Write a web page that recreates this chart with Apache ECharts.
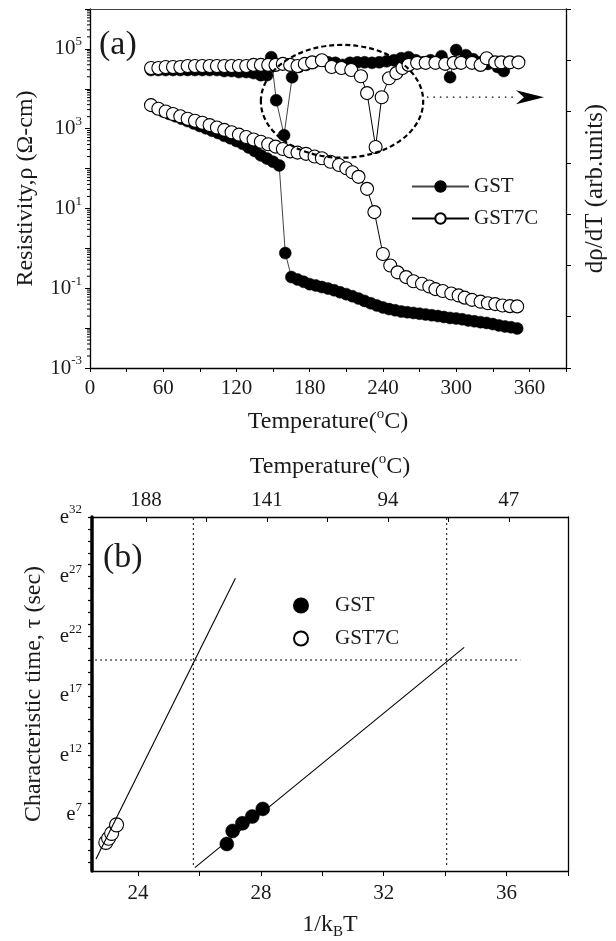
<!DOCTYPE html>
<html lang="en">
<head>
<meta charset="UTF-8" />
<title>GST / GST7C resistivity and characteristic time</title>
<script src="https://cdn.jsdelivr.net/npm/echarts@6.0.0/dist/echarts.min.js"></script>
<style>
  html, body { margin: 0; background: #fff; }
  #chart { width: 616px; height: 941px; }
</style>
</head>
<body>
<div id="chart"></div>
<script>
// ---- panel (a): resistivity and d(rho)/dT vs temperature ----
const gstTemp = [50, 55, 60, 65, 70, 75, 80, 85, 90, 95, 100, 105, 110, 115, 120, 125, 130, 135, 140, 145,
  150, 155, 160, 165, 170, 175, 180, 185, 190, 195, 200, 205, 210, 215, 220, 225, 230, 235, 240, 245,
  250, 255, 260, 265, 270, 275, 280, 285, 290, 295, 300, 305, 310, 315, 320, 325, 330, 335, 340, 345, 350];
const gstRho = [3890, 3160, 2690, 2340, 2040, 1780, 1550, 1350, 1170, 1020, 891, 776, 661, 575, 490, 417, 339, 275, 214, 178,
  148, 120, 0.76, 0.19, 0.166, 0.145, 0.126, 0.117, 0.107, 0.098, 0.089, 0.079, 0.071, 0.063, 0.055, 0.048, 0.042, 0.037, 0.033, 0.030,
  0.028, 0.026, 0.025, 0.024, 0.023, 0.022, 0.021, 0.020, 0.019, 0.018, 0.0174, 0.0166, 0.0155, 0.0148, 0.0141, 0.0135, 0.0126, 0.0117, 0.011, 0.0105, 0.0098];

const gst7cTemp = [50, 56, 62, 68, 74, 80, 86, 92, 98, 104, 110, 116, 122, 128, 134, 140, 146, 152, 158, 164,
  170, 177, 184, 190, 197, 204, 210, 215, 220, 227, 233, 240, 246, 252, 259, 265, 272, 278, 283, 289,
  296, 302, 307, 313, 320, 326, 332, 338, 344, 350];
const gst7cRho = [3890, 3160, 2690, 2340, 2040, 1780, 1580, 1410, 1230, 1070, 933, 813, 708, 617, 537, 468, 407, 355, 309, 269,
  251, 234, 200, 182, 148, 123, 102, 81, 62, 31, 8.1, 0.72, 0.37, 0.25, 0.19, 0.15, 0.13, 0.11, 0.095, 0.085,
  0.074, 0.066, 0.058, 0.051, 0.046, 0.042, 0.040, 0.037, 0.0355, 0.035];

// derivative curves, arbitrary units on the right axis
const gstDerivTemp = [50, 56, 62, 68, 74, 80, 86, 92, 98, 104, 110, 116, 122, 128, 134, 140, 145, 148.5, 152.6, 159,
  165.6, 171, 177, 183, 189, 195, 201, 207, 213, 219, 225, 231, 237, 243, 249, 255, 261, 267, 273, 279,
  288, 295, 300, 308, 314, 320, 326, 334, 339];
const gstDeriv = [58.1, 58.1, 58.1, 58.1, 58.1, 58.1, 58.1, 58.1, 58.1, 58.1, 57.9, 57.9, 57.7, 57.7, 57.5, 57.1, 57.1, 60.6, 52.2, 45.4,
  56.7, 58.7, 59.1, 59.5, 60.0, 59.6, 59.5, 59.1, 59.5, 59.6, 59.6, 59.5, 59.6, 59.8, 60.0, 60.4, 60.6, 60.0, 59.6, 60.0,
  60.8, 56.7, 62.0, 61.0, 60.2, 59.6, 59.3, 58.7, 57.9];
const gst7cDerivTemp = [50, 56, 62, 68, 74, 80, 86, 92, 98, 104, 110, 116, 122, 128, 134, 140, 146, 152, 158, 164,
  170, 176, 182, 190, 198, 206, 214, 222, 227, 234, 239, 245, 251, 256, 261, 268, 275, 283, 291, 298,
  304, 313, 320, 325, 332, 337, 344, 351];
const gst7cDeriv = [58.5, 58.5, 58.7, 58.7, 58.7, 58.9, 58.9, 58.9, 58.9, 58.9, 58.9, 58.9, 58.9, 58.9, 59.1, 59.1, 59.1, 59.1, 59.3, 59.1,
  58.9, 59.3, 59.6, 60.0, 58.7, 58.5, 58.1, 56.9, 53.6, 43.1, 52.8, 56.5, 57.5, 58.5, 59.1, 59.5, 59.5, 59.5, 59.3, 59.5,
  59.5, 59.5, 59.1, 60.4, 59.6, 59.6, 59.6, 59.6];

const tempTicks = [0, 30, 60, 90, 120, 150, 180, 210, 240, 270, 300, 330, 360, 390];
const tempLabels = [0, 60, 120, 180, 240, 300, 360];
const derivTicks = [0, 10, 20, 30, 40, 50, 60, 70];

// annotation: dashed ellipse round the derivative dips, arrow to the right axis
const ellipseT = [140, 273];
const ellipseV = [41, 63];
const arrowT = [276, 349, 372];
const arrowV = 52.8;

// ---- panel (b): characteristic time vs 1/kBT ----
const gstX = [26.89, 27.08, 27.40, 27.72, 28.06];
const gstTau = [4.57, 5.66, 6.30, 6.87, 7.51];
const gst7cX = [22.95, 23.04, 23.14, 23.30];
const gst7cTau = [4.70, 5.05, 5.46, 6.17];
const gstFitX = [25.85, 34.62];
const gstFitTau = [2.58, 21.06];
const gst7cFitX = [22.63, 27.17];
const gst7cFitTau = [3.30, 26.87];
const tauLevel = 20;           // ten-year criterion, e^20 s
const levelSpan = [22.6, 36.45];
const crossX = [25.8, 34.05];
const crossSpan = [2.8, 32];

const invTTicks = [24, 26, 28, 30, 32, 34, 36, 38];
const invTLabels = [24, 28, 32, 36];
const topTempTicks = [188, 164.5, 141, 117.5, 94, 70.5, 47, 24];
const topTempLabels = [188, 141, 94, 47];
const tauTicks = [3, 4, 5, 6, 7, 8, 9, 10, 11, 12, 13, 14, 15, 16, 17, 18, 19, 20, 21, 22, 23, 24, 25, 26, 27, 28, 29, 30, 31, 32];
const tauLabels = [7, 12, 17, 22, 27, 32];

const F = '"Liberation Serif", "Times New Roman", serif';
const INK = '#1a1a1a';

const pairs = (xs, ys) => xs.map((x, i) => [x, ys[i]]);

// log minor ticks for the resistivity axis (2..9 in each decade)
const logMinor = [];
for (let e = -3; e < 6; e++) {
  for (let k = 2; k <= 9; k++) logMinor.push([0, k * Math.pow(10, e)]);
}

const supRich = (size) => ({
  b: { fontFamily: F, fontSize: size, color: INK, lineHeight: size + 6 },
  s: { fontFamily: F, fontSize: Math.round(size * 0.62), color: INK, lineHeight: size + 6, verticalAlign: 'top' },
  u: { fontFamily: F, fontSize: Math.round(size * 0.62), color: INK, lineHeight: size + 6, verticalAlign: 'bottom' }
});

const chart = echarts.init(document.getElementById('chart'), null, { renderer: 'canvas' });

const openItem = { color: '#fff', borderColor: '#000', borderWidth: 1.1, opacity: 1 };
const fullItem = { color: '#000', borderColor: '#000', borderWidth: 0.5, opacity: 1 };
const axisLine = (w, c) => ({ show: true, onZero: false, lineStyle: { color: c || '#000', width: w } });

chart.setOption({
  animation: false,
  backgroundColor: '#fff',
  textStyle: { fontFamily: F, color: INK },
  grid: [
    { left: 90, top: 9, width: 478, height: 359 },
    { left: 92, top: 517, width: 476, height: 357 }
  ],
  legend: [
    {
      data: ['GST', 'GST7C'],
      left: 406, top: 171, orient: 'vertical',
      itemWidth: 57, itemHeight: 13, itemGap: 11,
      selectedMode: false,
      textStyle: { fontFamily: F, fontSize: 21, color: INK }
    },
    {
      data: ['GST', 'GST7C'],
      left: 288, top: 590, orient: 'vertical',
      icon: 'circle',
      itemWidth: 14, itemHeight: 14, itemGap: 12,
      selectedMode: false,
      textStyle: { fontFamily: F, fontSize: 21, color: INK, padding: [0, 0, 0, 22] }
    }
  ],
  xAxis: [
    {
      gridIndex: 0, type: 'value', position: 'bottom', min: 0, max: 390,
      axisLine: axisLine(1.3),
      axisTick: { inside: false, length: 4, customValues: tempTicks, lineStyle: { color: '#000' } },
      axisLabel: { customValues: tempLabels, margin: 10, fontFamily: F, fontSize: 21, color: INK },
      splitLine: { show: false },
      name: '{b|Temperature(}{s|o}{b|C)}',
      nameLocation: 'middle', nameGap: 39,
      nameTextStyle: { rich: supRich(24) }
    },
    {
      gridIndex: 0, type: 'value', position: 'top', min: 0, max: 390,
      axisLine: axisLine(1.2, '#444'),
      axisTick: { show: false }, axisLabel: { show: false }, splitLine: { show: false }
    },
    {
      gridIndex: 1, type: 'value', position: 'bottom', min: 22.5, max: 38,
      axisLine: axisLine(1.3),
      axisTick: { inside: false, length: 5, customValues: invTTicks, lineStyle: { color: '#000' } },
      axisLabel: { customValues: invTLabels, margin: 12, fontFamily: F, fontSize: 21, color: INK },
      splitLine: { show: false },
      name: '{b|1/k}{u|B}{b|T}',
      nameLocation: 'middle', nameGap: 39,
      nameTextStyle: { rich: supRich(24) }
    },
    {
      gridIndex: 1, type: 'value', position: 'top', min: 24, max: 209, inverse: true,
      axisLine: axisLine(1.3),
      axisTick: { inside: true, length: 5, customValues: topTempTicks, lineStyle: { color: '#000' } },
      axisLabel: { customValues: topTempLabels, margin: 6, fontFamily: F, fontSize: 21, color: INK },
      splitLine: { show: false },
      name: '{b|Temperature(}{s|o}{b|C)}',
      nameLocation: 'middle', nameGap: 35,
      nameTextStyle: { rich: supRich(24) }
    }
  ],
  yAxis: [
    {
      gridIndex: 0, type: 'log', logBase: 10, min: 0.001, max: 1e6, splitNumber: 9, position: 'left',
      axisLine: axisLine(1.3),
      axisTick: { show: true, inside: false, length: 5, lineStyle: { color: '#000' } },
      axisLabel: {
        margin: 8,
        formatter: (v) => {
          const e = Math.round(Math.log10(v));
          return e % 2 ? '{b|10}{s|' + e + '}' : '';
        },
        rich: supRich(21)
      },
      splitLine: { show: false },
      name: 'Resistivity,ρ (Ω-cm)',
      nameLocation: 'middle', nameGap: 52,
      nameTextStyle: { fontFamily: F, fontSize: 24, color: INK }
    },
    {
      gridIndex: 0, type: 'value', min: 0, max: 70, interval: 10, position: 'right',
      axisLine: axisLine(1.3),
      axisTick: { show: true, inside: false, length: 5, customValues: derivTicks, lineStyle: { color: '#000' } },
      axisLabel: { show: false },
      splitLine: { show: false },
      name: 'dρ/dT (arb.units)',
      nameLocation: 'middle', nameGap: 17, nameRotate: 90,
      nameTextStyle: { fontFamily: F, fontSize: 25, color: INK }
    },
    {
      gridIndex: 1, type: 'value', min: 2.3, max: 32, position: 'left',
      axisLine: axisLine(3.5),
      axisTick: { show: true, inside: false, length: 4, customValues: tauTicks, lineStyle: { color: '#000', width: 1.2 } },
      axisLabel: {
        customValues: tauLabels, margin: 10,
        formatter: (v) => '{b|e}{s|' + v + '}',
        rich: supRich(21)
      },
      splitLine: { show: false },
      name: 'Characteristic time, τ (sec)',
      nameLocation: 'middle', nameGap: 46,
      nameTextStyle: { fontFamily: F, fontSize: 24, color: INK }
    },
    {
      gridIndex: 1, type: 'value', min: 2.3, max: 32, position: 'right',
      axisLine: axisLine(1.3),
      axisTick: { show: false }, axisLabel: { show: false }, splitLine: { show: false }
    }
  ],
  series: [
    {
      type: 'custom', name: 'minor', xAxisIndex: 0, yAxisIndex: 0, clip: false, silent: true,
      data: logMinor,
      renderItem: (params, api) => {
        const p = api.coord([api.value(0), api.value(1)]);
        return { type: 'line', shape: { x1: p[0] - 3, y1: p[1], x2: p[0], y2: p[1] }, style: { stroke: '#000', lineWidth: 1 } };
      }
    },
    {
      type: 'line', name: 'GST', xAxisIndex: 0, yAxisIndex: 0,
      data: pairs(gstTemp, gstRho),
      symbol: 'circle', symbolSize: 12, itemStyle: fullItem,
      lineStyle: { color: '#444', width: 1 }
    },
    {
      type: 'line', name: 'GST7C', xAxisIndex: 0, yAxisIndex: 0,
      data: pairs(gst7cTemp, gst7cRho),
      symbol: 'circle', symbolSize: 13, itemStyle: openItem,
      lineStyle: { color: '#000', width: 1 }
    },
    {
      type: 'line', name: 'GST dρ/dT', xAxisIndex: 0, yAxisIndex: 1,
      data: pairs(gstDerivTemp, gstDeriv),
      symbol: 'circle', symbolSize: 12, itemStyle: fullItem,
      lineStyle: { color: '#444', width: 1 }
    },
    {
      type: 'line', name: 'GST7C dρ/dT', xAxisIndex: 0, yAxisIndex: 1,
      data: pairs(gst7cDerivTemp, gst7cDeriv),
      symbol: 'circle', symbolSize: 13, itemStyle: openItem,
      lineStyle: { color: '#000', width: 1 }
    },
    // panel (b)
    {
      type: 'line', name: 'level', xAxisIndex: 2, yAxisIndex: 2, symbol: 'none', silent: true,
      data: [[levelSpan[0], tauLevel], [levelSpan[1], tauLevel]],
      lineStyle: { color: '#000', width: 1, type: [2, 3] }
    },
    {
      type: 'line', name: 'cross1', xAxisIndex: 2, yAxisIndex: 2, symbol: 'none', silent: true,
      data: [[crossX[0], crossSpan[0]], [crossX[0], crossSpan[1]]],
      lineStyle: { color: '#000', width: 1, type: [2, 3] }
    },
    {
      type: 'line', name: 'cross2', xAxisIndex: 2, yAxisIndex: 2, symbol: 'none', silent: true,
      data: [[crossX[1], crossSpan[0]], [crossX[1], crossSpan[1]]],
      lineStyle: { color: '#000', width: 1, type: [2, 3] }
    },
    {
      type: 'line', name: 'GST7C fit', xAxisIndex: 2, yAxisIndex: 2, symbol: 'none',
      data: pairs(gst7cFitX, gst7cFitTau),
      lineStyle: { color: '#000', width: 1.1 }
    },
    {
      type: 'line', name: 'GST fit', xAxisIndex: 2, yAxisIndex: 2, symbol: 'none',
      data: pairs(gstFitX, gstFitTau),
      lineStyle: { color: '#000', width: 1.1 }
    },
    {
      type: 'scatter', name: 'GST', xAxisIndex: 2, yAxisIndex: 2,
      data: pairs(gstX, gstTau), symbol: 'circle', symbolSize: 14, itemStyle: fullItem
    },
    {
      type: 'scatter', name: 'GST7C', xAxisIndex: 2, yAxisIndex: 2,
      data: pairs(gst7cX, gst7cTau), symbol: 'circle', symbolSize: 14, itemStyle: openItem
    }
  ]
});

// annotations placed through the panel (a) scales
const toPx = (t, v) => chart.convertToPixel({ xAxisIndex: 0, yAxisIndex: 1 }, [t, v]);
const e0 = toPx(ellipseT[0], ellipseV[1]);
const e1 = toPx(ellipseT[1], ellipseV[0]);
const a0 = toPx(arrowT[0], arrowV);
const a1 = toPx(arrowT[1], arrowV);
const a2 = toPx(arrowT[2], arrowV);

chart.setOption({
  graphic: [
    {
      type: 'ellipse', silent: true, z: 10,
      shape: { cx: (e0[0] + e1[0]) / 2, cy: (e0[1] + e1[1]) / 2, rx: (e1[0] - e0[0]) / 2, ry: (e1[1] - e0[1]) / 2 },
      style: { fill: null, stroke: '#000', lineWidth: 2.2, lineDash: [5, 3] }
    },
    {
      type: 'line', silent: true, z: 10,
      shape: { x1: a0[0], y1: a0[1], x2: a1[0], y2: a1[1] },
      style: { stroke: '#000', lineWidth: 1.2, lineDash: [1.5, 5] }
    },
    {
      type: 'polygon', silent: true, z: 10,
      shape: { points: [[a1[0], a1[1] - 7], [a2[0], a2[1]], [a1[0], a1[1] + 7], [a1[0] + 8, a1[1]]] },
      style: { fill: '#000' }
    },
    { type: 'text', left: 99, top: 28, style: { text: '(a)', font: '34px ' + F, fill: INK } },
    { type: 'text', left: 103, top: 541, style: { text: '(b)', font: '34px ' + F, fill: INK } }
  ]
});
</script>
</body>
</html>
